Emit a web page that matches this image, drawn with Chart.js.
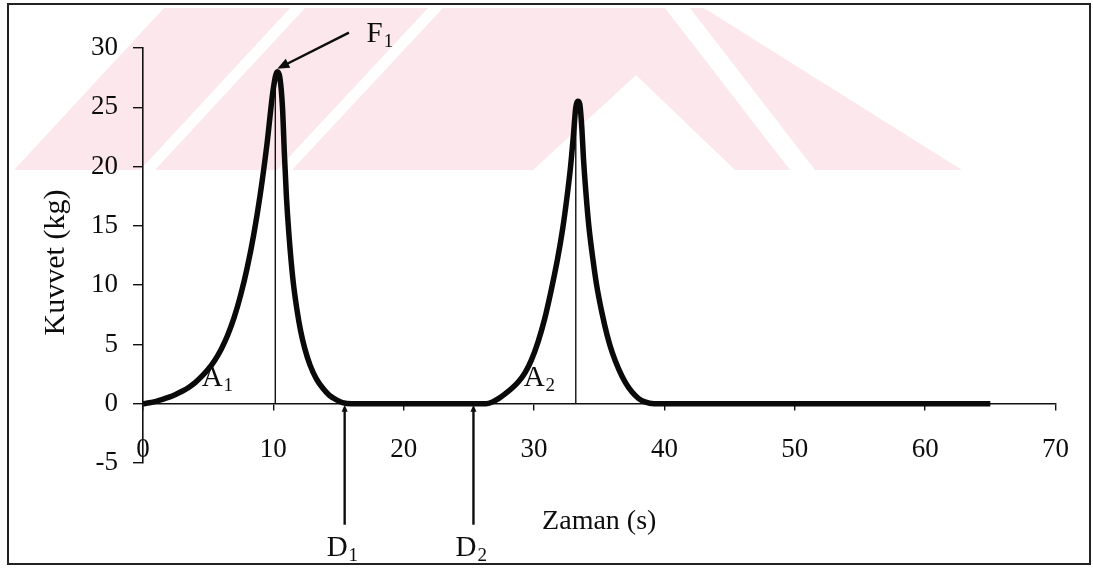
<!DOCTYPE html>
<html>
<head>
<meta charset="utf-8">
<script src="https://cdn.jsdelivr.net/npm/chart.js@4.4.1/dist/chart.umd.min.js"></script>
<style>
  html, body { margin: 0; padding: 0; background: #fff; }
  #wrap { width: 1093px; height: 568px; }
</style>
</head>
<body>
<div id="wrap"><canvas id="kuvvetChart" width="1093" height="568"></canvas></div>
<script>
// Kuvvet - zaman olcumu (iki tepe)
const zaman = [0, 0.5, 1, 1.5, 2, 2.5, 3, 3.5, 4, 4.5, 5, 5.5, 6, 6.5, 7, 7.5, 8, 8.5, 9, 9.5, 10, 10.3,
  10.5, 10.7, 10.85, 11.0, 11.2, 11.5, 11.8, 12.1, 12.4, 12.8, 13.3, 13.8, 14.3, 14.8, 15.3, 16, 20, 25,
  26.3, 26.8, 27.3, 27.8, 28.3, 28.8, 29.3, 29.8, 30.3, 30.8, 31.3, 31.8, 32.2, 32.5, 32.8, 33.0, 33.2, 33.35,
  33.5, 33.65, 33.8, 34.0, 34.2, 34.5, 34.8, 35.2, 35.6, 36.0, 36.5, 37.0, 37.5, 38.0, 38.5, 39.2,
  40, 50, 60, 65];
const kuvvet = [0, 0.08, 0.2, 0.36, 0.55, 0.78, 1.05, 1.37, 1.78, 2.3, 2.9, 3.65, 4.6, 5.8, 7.3, 9.2, 11.5, 14.3, 17.7, 21.8, 26.6, 28,
  27.5, 25, 21, 17.5, 14.2, 10.5, 8.0, 6.1, 4.7, 3.3, 2.1, 1.3, 0.7, 0.35, 0.1, 0, 0, 0,
  0, 0.15, 0.45, 0.85, 1.3, 1.85, 2.6, 3.7, 5.2, 7.1, 9.5, 12.2, 14.8, 17.2, 20.0, 22.4, 25.0, 25.5,
  25.3, 23.5, 20.5, 17.5, 15, 12.3, 10, 7.7, 5.8, 4.3, 2.9, 1.8, 1.0, 0.45, 0.15, 0,
  0, 0, 0, 0];

// tepe noktalari (F1 ve ikinci tepe) - dikey cizgiler
const tepeZaman = [10.15, 33.2];
const tepeKuvvet = [28, 25.4];

// D1, D2 isaretleri (zaman ekseni uzerinde)
const dZaman = [15.47, 25.35];
const dEtiket = ['1', '2'];

// alan etiketleri A1, A2 (sol alt kose, veri biriminde)
const aZaman = [4.5, 29.2];
const aKuvvet = [1.5, 1.5];
const aEtiket = ['1', '2'];

const xTicks = [0, 10, 20, 30, 40, 50, 60, 70];
const yTicks = [-5, 0, 5, 10, 15, 20, 25, 30];

const serif = '"Liberation Serif", "Times New Roman", serif';

const egri = zaman.map((t, i) => ({ x: t, y: kuvvet[i] }));
const tepeCizgileri = tepeZaman.map((t, i) => ({
  type: 'line',
  data: [{ x: t, y: 0 }, { x: t, y: tepeKuvvet[i] }],
  borderColor: '#111',
  borderWidth: 1.4,
  pointRadius: 0,
  fill: false
}));

// arka plandaki soluk kirmizi desen
const desen = [
  [[14, 170], [164, 8], [290, 8], [140, 170]],
  [[155, 170], [305, 8], [428, 8], [277, 170]],
  [[292, 170], [443, 8], [665, 8], [790, 170]],
  [[690, 8], [704, 8], [962, 170], [815, 170]]
];
const desenBosluk = [[533, 170], [636, 75], [735, 170]];

function yaziAlt(ctx, ana, alt, x, y, boyut) {
  ctx.textAlign = 'left';
  ctx.textBaseline = 'alphabetic';
  ctx.font = boyut + 'px ' + serif;
  const w1 = ctx.measureText(ana).width;
  ctx.fillText(ana, x, y);
  ctx.font = Math.round(boyut * 0.66) + 'px ' + serif;
  ctx.fillText(alt, x + w1 + 1, y + 5);
}

function okBasi(ctx, x1, y1, x2, y2, uzunluk, genislik) {
  const a = Math.atan2(y2 - y1, x2 - x1);
  ctx.beginPath();
  ctx.moveTo(x2, y2);
  ctx.lineTo(x2 - uzunluk * Math.cos(a) + genislik * Math.sin(a), y2 - uzunluk * Math.sin(a) - genislik * Math.cos(a));
  ctx.lineTo(x2 - uzunluk * Math.cos(a) - genislik * Math.sin(a), y2 - uzunluk * Math.sin(a) + genislik * Math.cos(a));
  ctx.closePath();
  ctx.fill();
}

const susleme = {
  id: 'susleme',
  beforeDraw(chart) {
    const ctx = chart.ctx;
    ctx.save();
    ctx.fillStyle = '#fff';
    ctx.fillRect(0, 0, chart.width, chart.height);
    ctx.fillStyle = '#fce8ec';
    desen.forEach(p => {
      ctx.beginPath();
      p.forEach((n, i) => i ? ctx.lineTo(n[0], n[1]) : ctx.moveTo(n[0], n[1]));
      ctx.closePath();
      ctx.fill();
    });
    ctx.fillStyle = '#fff';
    ctx.beginPath();
    desenBosluk.forEach((n, i) => i ? ctx.lineTo(n[0], n[1]) : ctx.moveTo(n[0], n[1]));
    ctx.closePath();
    ctx.fill();
    ctx.restore();
  },
  afterDraw(chart) {
    const ctx = chart.ctx;
    const xs = chart.scales.x, ys = chart.scales.y;
    const area = chart.chartArea;
    ctx.save();
    ctx.fillStyle = '#0d0d0d';
    ctx.strokeStyle = '#0d0d0d';

    // eksen basliklari
    ctx.textAlign = 'center';
    ctx.textBaseline = 'alphabetic';
    ctx.font = '28px ' + serif;
    ctx.fillText('Zaman (s)', (area.left + area.right) / 2, 529);
    ctx.save();
    ctx.font = '30px ' + serif;
    ctx.translate(64, (area.top + area.bottom) / 2 + 7);
    ctx.rotate(-Math.PI / 2);
    ctx.fillText('Kuvvet (kg)', 0, 0);
    ctx.restore();

    // F1 oku
    const fx = xs.getPixelForValue(tepeZaman[0] + 0.15), fy = ys.getPixelForValue(tepeKuvvet[0]) - 3;
    const kx = xs.getPixelForValue(15.8), ky = ys.getPixelForValue(31.3);
    ctx.lineWidth = 2.4;
    ctx.beginPath();
    ctx.moveTo(kx, ky);
    ctx.lineTo(fx + 8, fy - 4);
    ctx.stroke();
    okBasi(ctx, kx, ky, fx, fy, 12, 5);
    yaziAlt(ctx, 'F', '1', xs.getPixelForValue(17.15), ys.getPixelForValue(30.5), 29);

    // A1, A2
    aZaman.forEach((t, i) => {
      yaziAlt(ctx, 'A', aEtiket[i], xs.getPixelForValue(t), ys.getPixelForValue(aKuvvet[i]), 29);
    });

    // D1, D2 oklari
    const y0 = ys.getPixelForValue(0);
    dZaman.forEach((t, i) => {
      const px = xs.getPixelForValue(t);
      ctx.lineWidth = 2.4;
      ctx.beginPath();
      ctx.moveTo(px, y0 + 121);
      ctx.lineTo(px, y0 + 5);
      ctx.stroke();
      okBasi(ctx, px, y0 + 60, px, y0 + 1, 7, 3);
      yaziAlt(ctx, 'D', dEtiket[i], px - 18, y0 + 152, 29);
    });

    // cerceve
    ctx.lineWidth = 2;
    ctx.strokeStyle = '#222';
    ctx.strokeRect(8, 4, 1082, 560);
    ctx.restore();
  }
};

new Chart(document.getElementById('kuvvetChart'), {
  type: 'line',
  data: {
    datasets: [{
      data: egri,
      borderColor: '#0a0a0a',
      borderWidth: 5.5,
      pointRadius: 0,
      fill: false,
      cubicInterpolationMode: 'monotone'
    }].concat(tepeCizgileri)
  },
  options: {
    responsive: false,
    animation: false,
    layout: { padding: { left: 0, right: 36, top: 48, bottom: 105 } },
    plugins: { legend: { display: false }, tooltip: { enabled: false } },
    scales: {
      x: {
        type: 'linear',
        position: { y: 0 },
        min: 0,
        max: 70,
        afterBuildTicks: s => { s.ticks = xTicks.map(v => ({ value: v })); },
        grid: { drawOnChartArea: false, drawTicks: true, tickLength: 6, color: '#111', lineWidth: 1.4 },
        border: { display: true, color: '#111', width: 1.6 },
        ticks: { color: '#0d0d0d', padding: 24, maxRotation: 0, font: { family: serif, size: 27 } }
      },
      y: {
        type: 'linear',
        position: 'left',
        min: -5,
        max: 30,
        afterBuildTicks: s => { s.ticks = yTicks.map(v => ({ value: v })); },
        afterFit: s => { s.width = 143; },
        grid: { drawOnChartArea: false, drawTicks: true, tickLength: 10, color: '#111', lineWidth: 1.4 },
        border: { display: true, color: '#111', width: 1.6 },
        ticks: { color: '#0d0d0d', padding: 15, font: { family: serif, size: 27 } }
      }
    }
  },
  plugins: [susleme]
});
</script>
</body>
</html>
